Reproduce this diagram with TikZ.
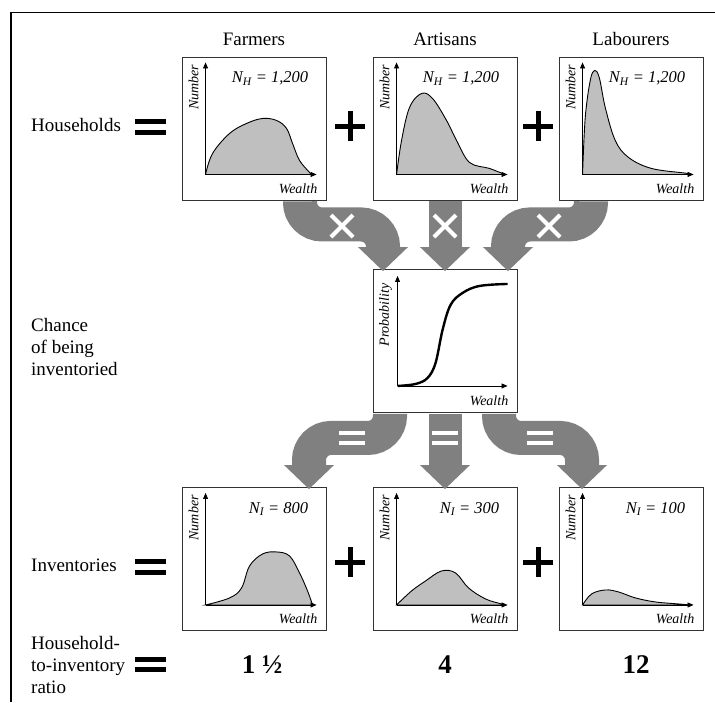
\documentclass[tikz,border=0pt]{standalone}
\usepackage{fontspec}
\setmainfont{Liberation Serif}
\usetikzlibrary{calc,arrows.meta}
\tikzset{
  plotbox/.style={draw=black!80, line width=0.9pt, fill=white, minimum width=144pt, minimum height=143pt, inner sep=0pt},
  axis/.style={line width=0.8pt, -{Triangle[length=6pt,width=5pt]}},
  curvefill/.style={fill=lightgray, draw=black, line width=0.9pt},
  pipe/.style={draw=gray, line width=34pt, rounded corners=22pt},
  pipehead/.style={fill=gray},
  axlabel/.style={font=\fontsize{14}{16}\selectfont\itshape, inner sep=0pt},
  nlabel/.style={font=\fontsize{16.5}{18}\selectfont\itshape, inner sep=0pt},
  rowlabel/.style={font=\fontsize{19}{22}\selectfont, inner sep=0pt, align=left},
  collabel/.style={font=\fontsize{19}{22}\selectfont, inner sep=0pt},
  ratiolabel/.style={font=\fontsize{27}{30}\selectfont\bfseries, inner sep=0pt},
  signbar/.style={line width=5pt},
  whitemark/.style={draw=white, line width=4pt},
}
\newcommand\panel[5]{%
  \node[plotbox] (#1) at (#2) {};
  \begin{scope}[shift={($(#1.south west)+(24,-26)$)}, yscale=-1]
    \filldraw[curvefill] plot[smooth, tension=0.6] coordinates {#5} -- cycle;
    \draw[axis] (0,0) -- (0,112);
    \draw[axis] (0,0) -- (111,0);
  \end{scope}
  \node[axlabel, rotate=90, anchor=east] at ($(#1.north west)+(12,8)$) {#3};
  \node[axlabel, anchor=base east] at ($(#1.south east)+(-9,-7)$) {Wealth};
  \node[nlabel, anchor=base east] at ($(#1.north east)+(-18,26)$) {#4};
}
\newcommand\flow[3]{%
  \draw[pipe] ($(#1)+(0,1)$) -- ++(0,#3) -| ($(#2)+(0,-22)$);
  \fill[pipehead] ($(#2)+(-25,-24)$) -- ($(#2)+(25,-24)$) -- (#2) -- cycle;}
\newcommand\flowstraight[2]{%
  \draw[pipe, line width=33pt] ($(#1)+(0,1)$) -- ($(#2)+(0,-22)$);
  \fill[pipehead] ($(#2)+(-25,-24)$) -- ($(#2)+(25,-24)$) -- (#2) -- cycle;}
\newcommand\crossmark[1]{\draw[whitemark] ($(#1)+(-11,-11)$) -- ($(#1)+(11,11)$) ($(#1)+(-11,11)$) -- ($(#1)+(11,-11)$);}
\newcommand\eqmark[1]{\draw[whitemark] ($(#1)+(-13,-5)$) -- ++(26,0) ($(#1)+(-13,5)$) -- ++(26,0);}
\begin{document}
\begin{tikzpicture}[x=1pt,y=-1pt]
\useasboundingbox (0,0) rectangle (715,702);
\draw[line width=1.6pt] (11,702) -- (11,12.5) -- (715,12.5);

% column labels
\node[collabel, anchor=base] (cF) at (254,45) {Farmers};
\node[collabel, anchor=base] (cA) at (445,45) {Artisans};
\node[collabel, anchor=base] (cL) at (631,45) {Labourers};

% row labels
\node[rowlabel, anchor=base west] (rH) at (31,131.5) {Households};
\node[rowlabel, anchor=north west] (rC) at (31,318) {Chance\\of being\\inventoried};
\node[rowlabel, anchor=base west] (rI) at (31,571) {Inventories};
\node[rowlabel, anchor=north west] (rR) at (31,636) {Household-\\to-inventory\\ratio};

% black signs
\draw[signbar] (135,121.5) -- (166,121.5) (135,132) -- (166,132);
\draw[signbar] (135,561.5) -- (166,561.5) (135,572) -- (166,572);
\draw[signbar] (135,659) -- (166,659) (135,669.5) -- (166,669.5);
\draw[signbar] (335,126) -- (365,126) (350,111) -- (350,141);
\draw[signbar] (523,126) -- (553,126) (538,111) -- (538,141);
\draw[signbar] (335,562) -- (365,562) (350,547) -- (350,577);
\draw[signbar] (523,562) -- (553,562) (538,547) -- (538,577);

% household panels
\panel{hF}{254,128.5}{Number}{N\textsubscript{H} = 1,200}{(0,0) (7,21) (24,41) (41,51) (57,56) (71,54) (81,46) (87,31) (94,14) (104,2) (106,0)}
\panel{hA}{445,128.5}{Number}{N\textsubscript{H} = 1,200}{(0,0) (5,34) (13,67) (25,81) (36,76) (50,54) (60,34) (73,12) (93,6) (108,0)}
\panel{hL}{631,128.5}{Number}{N\textsubscript{H} = 1,200}{(0,0) (2.7,57) (7.7,94) (12,104) (16.7,97) (22.7,67) (32.7,34) (46,17) (69,6) (103,1.3) (108,0)}

% probability panel
\node[plotbox] (pr) at (445,341) {};
\begin{scope}[shift={($(pr.south west)+(25,-27)$)}, yscale=-1]
  \draw[line width=2.4pt] plot[smooth, tension=0.6] coordinates {(0,0) (18,2) (30,8) (38,23) (45,56) (53,81) (65,93) (82,100) (110,102)};
  \draw[axis] (0,0) -- (0,110);
  \draw[axis] (0,0) -- (110,0);
\end{scope}
\node[axlabel, rotate=90, anchor=east] (plab) at ($(pr.north west)+(13,14)$) {Probability};
\node[axlabel, anchor=base east] (pw) at ($(pr.south east)+(-9,-7)$) {Wealth};

% inventory panels
\panel{iF}{254,559}{Number}{N\textsubscript{I} = 800}{(0,0) (24,7) (36,17) (44,39) (57,51) (71,53) (84,49) (94,32) (102,14) (107,0)}
\panel{iA}{445,559}{Number}{N\textsubscript{I} = 300}{(0,0) (15,14) (29,24) (45,34) (59,32) (72,17) (89,6) (105,1) (108,0)}
\panel{iL}{631,559}{Number}{N\textsubscript{I} = 100}{(0,0) (9,11) (23,15) (36,13) (53,7) (73,3) (96,1) (108,0)}

% flow arrows
\coordinate (a1s) at ([xshift=46pt]hF.south);
\coordinate (a1e) at ([xshift=-62pt,yshift=-2pt]pr.north);
\coordinate (a2s) at (hA.south);
\coordinate (a2e) at ([yshift=-2pt]pr.north);
\coordinate (a3s) at ([xshift=-40pt]hL.south);
\coordinate (a3e) at ([xshift=63pt,yshift=-2pt]pr.north);
\coordinate (b1s) at ([xshift=-55pt]pr.south);
\coordinate (b1e) at ([xshift=55pt,yshift=-2pt]iF.north);
\coordinate (b2s) at (pr.south);
\coordinate (b2e) at ([yshift=-2pt]iA.north);
\coordinate (b3s) at ([xshift=54pt]pr.south);
\coordinate (b3e) at ([xshift=-49pt,yshift=-2pt]iL.north);

\flow{a1s}{a1e}{23}
\flowstraight{a2s}{a2e}
\flow{a3s}{a3e}{23}
\flow{b1s}{b1e}{24}
\flowstraight{b2s}{b2e}
\flow{b3s}{b3e}{24}

\crossmark{342,226}
\crossmark{445,226}
\crossmark{549,226}
\eqmark{352,438}
\eqmark{445,438}
\eqmark{540,438}

% ratios
\node[ratiolabel, anchor=base] (q1) at (262,673) {1 ½};
\node[ratiolabel, anchor=base] (q2) at (445,673) {4};
\node[ratiolabel, anchor=base] (q3) at (636,673) {12};
\end{tikzpicture}
\end{document}
